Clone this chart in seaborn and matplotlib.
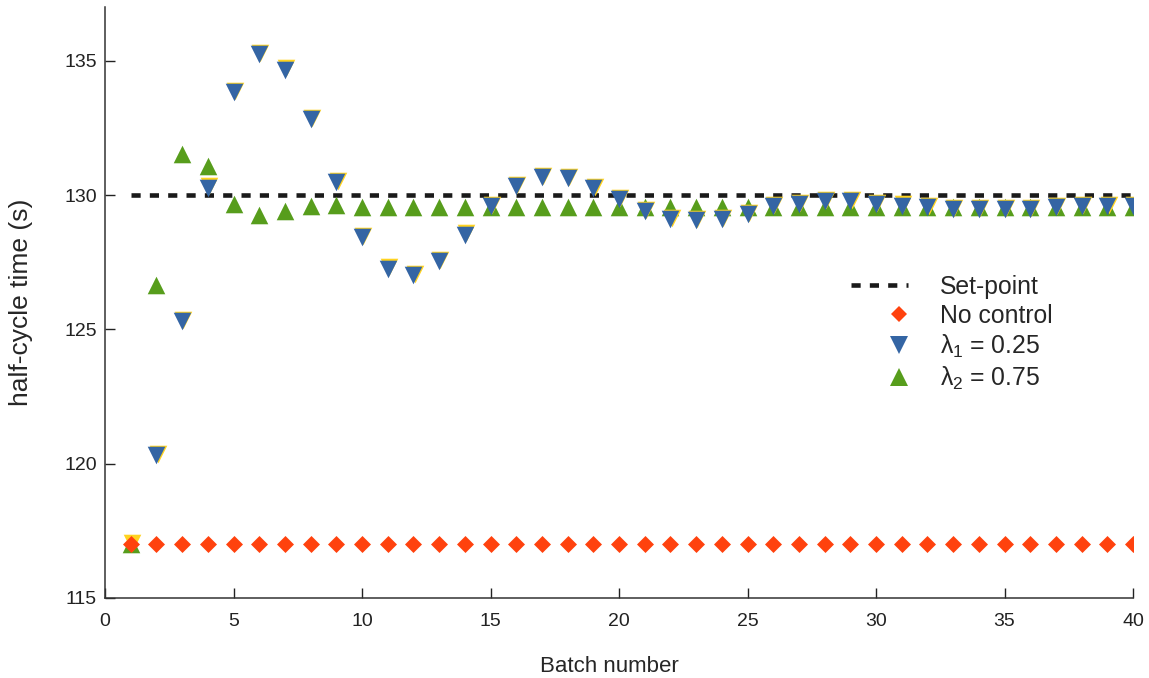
import numpy as np
import pandas as pd
import matplotlib
matplotlib.use("Agg")
import matplotlib.pyplot as plt
import matplotlib.transforms as mtransforms
from matplotlib.lines import Line2D
from matplotlib.legend_handler import HandlerLine2D
import seaborn as sns

# ---- data ----
batches = list(range(1, 41))
setpoint = [130.0] * 40
no_control = [117.0] * 40
lambda1 = [117.0, 120.32, 125.31, 130.28, 133.82, 135.24, 134.67, 132.83, 130.48, 128.43,
           127.26, 127.01, 127.54, 128.53, 129.58, 130.33, 130.66, 130.64, 130.27, 129.84,
           129.40, 129.11, 129.06, 129.11, 129.30, 129.58, 129.65, 129.76, 129.78, 129.66,
           129.61, 129.54, 129.47, 129.47, 129.47, 129.47, 129.54, 129.60, 129.60, 129.60]
lambda2 = [117.0, 126.64, 131.52, 131.07, 129.66, 129.27, 129.41, 129.58, 129.62, 129.56,
           129.56, 129.56, 129.56, 129.56, 129.56, 129.56, 129.56, 129.56, 129.56, 129.56,
           129.56, 129.56, 129.56, 129.56, 129.56, 129.56, 129.56, 129.56, 129.56, 129.56,
           129.56, 129.56, 129.56, 129.56, 129.56, 129.56, 129.56, 129.56, 129.56, 129.56]
x_ticks = [0, 5, 10, 15, 20, 25, 30, 35, 40]
y_ticks = [115, 120, 125, 130, 135]
labels = ["Set-point", "No control", r"$\lambda_1$ = 0.25", r"$\lambda_2$ = 0.75"]

C_BLUE = "#3465a4"
C_GREEN = "#579d1c"
C_ORANGE = "#ff420e"
C_YELLOW = "#ffd320"

sns.set_style("ticks")
plt.rcParams["font.family"] = ["Liberation Sans", "DejaVu Sans"]
plt.rcParams["mathtext.fontset"] = "custom"
plt.rcParams["mathtext.rm"] = "Liberation Sans"
plt.rcParams["mathtext.it"] = "Liberation Sans"
plt.rcParams["mathtext.bf"] = "Liberation Sans:bold"

fig = plt.figure(figsize=(11.49, 6.78), dpi=100)
ax = fig.add_axes([105 / 1149, 1 - 598 / 678, (1133 - 105) / 1149, (598 - 7) / 678])

df_sp = pd.DataFrame({"x": batches, "y": setpoint})
df_nc = pd.DataFrame({"x": batches, "y": no_control})
df_l1 = pd.DataFrame({"x": batches, "y": lambda1})
df_l2 = pd.DataFrame({"x": batches, "y": lambda2})

TRI_S = 160
sns.lineplot(data=df_sp, x="x", y="y", ax=ax, color="#1a1a1a", linewidth=3.3,
             dashes=False, zorder=2, label="_nolegend_")
ax.lines[-1].set_dashes((2.0, 2.0))

sns.scatterplot(data=df_l2, x="x", y="y", ax=ax, marker="^", s=TRI_S, color=C_GREEN,
                linewidth=0, zorder=3, label="_nolegend_")
# yellow shadow series under the blue triangles
sns.scatterplot(data=df_l1, x="x", y="y", ax=ax, marker="v", s=TRI_S, color=C_YELLOW,
                linewidth=0, zorder=4, label="_nolegend_")
ax.collections[-1].set_offset_transform(
    ax.transData + mtransforms.ScaledTranslation(1.2 / 100, 1.2 / 100, fig.dpi_scale_trans))
sns.scatterplot(data=df_l1.iloc[1:], x="x", y="y", ax=ax, marker="v", s=TRI_S, color=C_BLUE,
                linewidth=0, zorder=5, label="_nolegend_")
sns.scatterplot(data=df_nc, x="x", y="y", ax=ax, marker="D", s=75, color=C_ORANGE,
                linewidth=0, zorder=6, label="_nolegend_")

ax.set_xlim(0, 40)
ax.set_ylim(115, 137)
ax.set_xticks(x_ticks)
ax.set_yticks(y_ticks)
ax.tick_params(direction="in", length=7, width=1, labelsize=14, colors="#222222")
ax.tick_params(axis="x", pad=11)
ax.tick_params(axis="y", pad=6)
for sp in ["top", "right"]:
    ax.spines[sp].set_visible(False)
for sp in ["left", "bottom"]:
    ax.spines[sp].set_color("#333333")
    ax.spines[sp].set_linewidth(1.1)
ax.set_xlabel("Batch number", fontsize=16)
ax.set_ylabel("half-cycle time (s)", fontsize=19)
ax.xaxis.set_label_coords((609.5 - 105) / 1028, -(666 - 598) / 591)
ax.xaxis.label.set_va("center")
ax.yaxis.set_label_coords(-(105 - 21) / 1028, 0.5)
ax.yaxis.label.set_va("center")


class RightMarkerHandler(HandlerLine2D):
    def create_artists(self, legend, orig_handle, xdescent, ydescent, width, height,
                       fontsize, trans):
        artists = super().create_artists(legend, orig_handle, xdescent, ydescent, width,
                                         height, fontsize, trans)
        pos = -xdescent + 0.84 * width
        for a in artists:
            a.set_xdata(np.full(len(a.get_xdata()), pos))
        return artists


handles = [
    Line2D([], [], color="#1a1a1a", linewidth=3.3, dashes=(2.0, 2.0)),
    Line2D([], [], color=C_ORANGE, marker="D", markersize=8.6, linestyle="none", markeredgewidth=0),
    Line2D([], [], color=C_BLUE, marker="v", markersize=12.5, linestyle="none", markeredgewidth=0),
    Line2D([], [], color=C_GREEN, marker="^", markersize=12.5, linestyle="none", markeredgewidth=0),
]
hm = {h: RightMarkerHandler() for h in handles[1:]}
fig.legend(handles, labels, loc="upper left", bbox_to_anchor=(851 / 1149, 1 - 275 / 678),
           bbox_transform=fig.transFigure, frameon=False, fontsize=17.8, borderpad=0,
           borderaxespad=0, handlelength=2.3, handletextpad=1.3, labelspacing=0.2,
           handler_map=hm)

fig.savefig("out.png", dpi=100)
